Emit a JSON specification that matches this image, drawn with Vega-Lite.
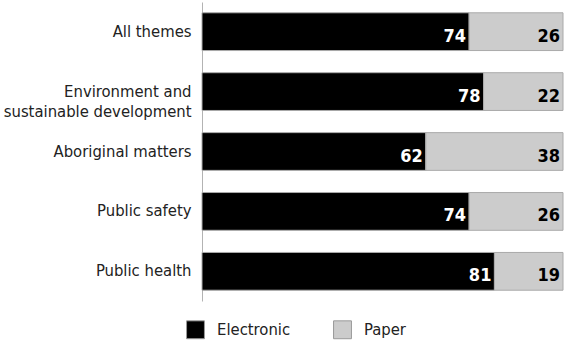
{
  "$schema": "https://vega.github.io/schema/vega-lite/v6.json",
  "autosize": {"type": "none"},
  "padding": {"left": 202, "top": 2, "right": 6, "bottom": 42},
  "width": 361,
  "height": 299,
  "background": "white",
  "config": {
    "view": {"stroke": null},
    "font": "DejaVu Sans Condensed, sans-serif"
  },
  "data": {
    "values": [
      {"theme": "All themes", "type": "Electronic", "value": 74, "ord": 1},
      {"theme": "All themes", "type": "Paper", "value": 26, "ord": 2},
      {"theme": "Environment and sustainable development", "type": "Electronic", "value": 78, "ord": 1},
      {"theme": "Environment and sustainable development", "type": "Paper", "value": 22, "ord": 2},
      {"theme": "Aboriginal matters", "type": "Electronic", "value": 62, "ord": 1},
      {"theme": "Aboriginal matters", "type": "Paper", "value": 38, "ord": 2},
      {"theme": "Public safety", "type": "Electronic", "value": 74, "ord": 1},
      {"theme": "Public safety", "type": "Paper", "value": 26, "ord": 2},
      {"theme": "Public health", "type": "Electronic", "value": 81, "ord": 1},
      {"theme": "Public health", "type": "Paper", "value": 19, "ord": 2}
    ]
  },
  "transform": [
    {"stack": "value", "groupby": ["theme"], "sort": [{"field": "ord"}], "as": ["x0", "x1"]}
  ],
  "encoding": {
    "y": {
      "field": "theme",
      "type": "nominal",
      "sort": ["All themes", "Environment and sustainable development", "Aboriginal matters", "Public safety", "Public health"],
      "scale": {"paddingInner": 0.37, "paddingOuter": 0.18},
      "axis": {
        "title": null,
        "ticks": false,
        "domainColor": "#b3b3b3",
        "domainWidth": 1,
        "labelFontSize": 16.5,
        "labelColor": "#222222",
        "labelPadding": 11,
        "labelLineHeight": 20,
        "labelLimit": 250,
        "labelExpr": "datum.label == 'Environment and sustainable development' ? ['Environment and', 'sustainable development'] : datum.label"
      }
    }
  },
  "layer": [
    {
      "mark": {"type": "bar", "stroke": "#aaaaaa", "strokeWidth": 1},
      "encoding": {
        "x": {"field": "x0", "type": "quantitative", "scale": {"domain": [0, 100], "nice": false}, "axis": null},
        "x2": {"field": "x1"},
        "color": {
          "field": "type",
          "type": "nominal",
          "scale": {"domain": ["Electronic", "Paper"], "range": ["#000000", "#cccccc"]},
          "legend": {
            "title": null,
            "orient": "none",
            "direction": "horizontal",
            "legendX": -16,
            "legendY": 318,
            "symbolType": "square",
            "symbolSize": 320,
            "symbolStrokeColor": "#999999",
            "symbolStrokeWidth": 1,
            "labelFontSize": 16.5,
            "labelColor": "#222222",
            "labelOffset": 12,
            "columnPadding": 40
          }
        }
      }
    },
    {
      "mark": {"type": "text", "align": "right", "baseline": "middle", "dx": -3, "dy": 5, "fontSize": 18, "fontWeight": "bold"},
      "encoding": {
        "x": {"field": "x1", "type": "quantitative"},
        "text": {"field": "value", "type": "quantitative"},
        "fill": {"condition": {"test": "datum.type === 'Electronic'", "value": "#ffffff"}, "value": "#000000"}
      }
    }
  ]
}
